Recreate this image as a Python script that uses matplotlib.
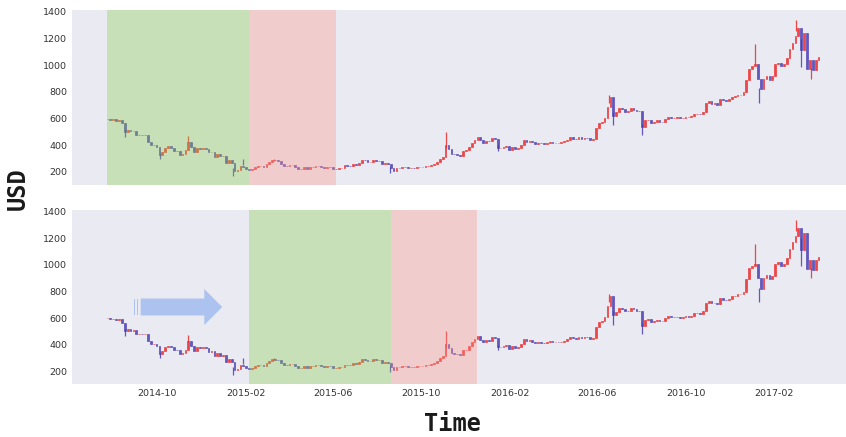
import matplotlib
matplotlib.use('Agg')
import matplotlib.pyplot as plt
import matplotlib.dates as mdates
import numpy as np
import pandas as pd
import seaborn as sns

sns.set_style('dark')

# BTC/USD close, one candle every 4 days from 2014-07-24
start = '2014-07-24'
close = [
    600, 590,
    595, 585, 590, 565, 500, 515, 505, 510,
    478, 480, 478, 478, 425, 402, 405, 387,
    330, 352, 378, 392, 383, 358, 355,
    325, 338, 362, 425, 385, 351, 378, 375,
    378, 375, 347, 348, 315, 334, 316, 318,
    265, 290, 268, 205, 212, 248, 235,
    225, 217, 220, 237, 243, 245, 237,
    260, 273, 290, 286, 285, 260, 246, 242,
    253, 255, 236, 219, 223, 235, 220, 236,
    239, 243, 242, 236, 233, 240, 237,
    223, 225, 229, 232, 249, 245, 242, 257,
    255, 269, 292, 286, 275, 277, 293, 284,
    284, 260, 267, 258, 233, 210, 230,
    228, 235, 238, 230, 233, 230, 235, 237,
    238, 246, 247, 255, 262, 277, 295, 315,
    403, 372, 337, 332, 326, 322, 357,
    361, 389, 416, 443, 462, 436, 417, 432,
    430, 456, 448, 380, 380, 387, 394, 368,
    389, 375, 382, 403, 438, 424, 433,
    421, 412, 420, 415, 408, 418, 424, 416,
    420, 419, 422, 430, 441, 459, 449,
    444, 459, 450, 455, 454, 440, 449, 530,
    569, 576, 606, 690, 763, 623, 647, 676,
    670, 650, 654, 678, 665, 654, 655,
    540, 587, 592, 570, 574, 587, 578, 577,
    599, 614, 607, 607, 610, 603, 606, 613,
    611, 617, 636, 638, 632, 653, 714,
    732, 711, 715, 704, 748, 739, 733, 745,
    765, 768, 778, 780, 799, 891, 975,
    995, 1010, 900, 820, 900, 921, 893, 917,
    1007, 1021, 995, 1009, 1054, 1124, 1171,
    1222, 1277, 1116, 1245, 970, 1040, 965, 1040, 1060,
]

# intraday extremes that stick out of the bodies
wick_dates = ['2014-08-18', '2014-10-05', '2014-11-12', '2015-01-14', '2015-01-27',
              '2015-03-11', '2015-08-19', '2015-11-04', '2016-01-15', '2016-06-17',
              '2016-06-22', '2016-08-02', '2017-01-05', '2017-01-11', '2017-03-03',
              '2017-03-10', '2017-03-24']
wick_lo = [465, 300, 420, 170, 250, 280, 195, 380, 355, 720, 550, 480, 1000, 720, 1260, 990, 900]
wick_hi = [520, 340, 470, 230, 300, 300, 235, 500, 400, 780, 650, 560, 1160, 830, 1340, 1200, 980]

# training (green) / test (red) windows for the two panels
train_windows = [('2014-07-24', '2015-02-05'), ('2015-02-05', '2015-08-20')]
test_windows = [('2015-02-05', '2015-06-05'), ('2015-08-20', '2015-12-18')]

yticks = [200, 400, 600, 800, 1000, 1200, 1400]
xticks = ['2014-10-01', '2015-02-01', '2015-06-01', '2015-10-01',
          '2016-02-01', '2016-06-01', '2016-10-01', '2017-02-01']

dates = pd.date_range(start, periods=len(close), freq='4D')
x = mdates.date2num(dates)
c = np.array(close, dtype=float)
o = np.r_[c[0], c[:-1]]
up = c >= o

RED = '#ec2a2a'
BLUE = '#4a3db2'
GREEN_SPAN = '#8ace4a'
RED_SPAN = '#ff9586'


def candles(ax):
    cols = np.where(up, RED, BLUE)
    ax.bar(x, c - o, bottom=o, width=2.4, color=cols, edgecolor=cols,
           linewidth=0.5, alpha=0.85, zorder=2)
    wx = mdates.date2num(pd.to_datetime(wick_dates))
    for xi, lo, hi in zip(wx, wick_lo, wick_hi):
        k = np.argmin(np.abs(x - xi))
        ax.vlines(xi, lo, hi, color=RED if up[k] else BLUE, lw=0.9, alpha=0.85, zorder=2)


fig = plt.figure(figsize=(8.46, 4.37), dpi=100)
W, H = 846, 437
ax1 = fig.add_axes([72 / W, 1 - 185 / H, 774 / W, 175 / H])
ax2 = fig.add_axes([72 / W, 1 - 384 / H, 774 / W, 174 / H], sharex=ax1)

xmin = mdates.date2num(pd.Timestamp('2014-06-05'))
xmax = mdates.date2num(pd.Timestamp('2017-05-11'))

for ax, (g0, g1), (r0, r1) in zip([ax1, ax2], train_windows, test_windows):
    candles(ax)
    ax.axvspan(pd.Timestamp(g0), pd.Timestamp(g1), color=GREEN_SPAN, alpha=0.35, lw=0, zorder=3)
    ax.axvspan(pd.Timestamp(r0), pd.Timestamp(r1), color=RED_SPAN, alpha=0.35, lw=0, zorder=3)
    ax.set_ylim(102, 1415)
    ax.set_yticks(yticks)
    ax.set_xlim(xmin, xmax)
    ax.tick_params(labelsize=6.8, colors='#333333', length=0)
    for s in ax.spines.values():
        s.set_visible(False)

ax1.set_xticks(mdates.date2num(pd.to_datetime(xticks)))
ax2.xaxis.set_major_formatter(mdates.DateFormatter('%Y-%m'))
plt.setp(ax1.get_xticklabels(), visible=False)

# the "window slides forward" arrow
a0 = mdates.date2num(pd.Timestamp('2014-09-08'))
a1 = mdates.date2num(pd.Timestamp('2014-12-30'))
ax2.arrow(a0, 683, a1 - a0, 0, width=128, head_width=272, head_length=25,
          length_includes_head=True, color='cornflowerblue', alpha=0.45, lw=0, zorder=4)
for s in ['2014-08-31', '2014-09-04']:
    ax2.bar(mdates.date2num(pd.Timestamp(s)), 128, bottom=683 - 64, width=1.6,
            color='cornflowerblue', alpha=0.45, lw=0, zorder=4)

fig.text(18 / W, 1 - 189 / H, 'USD', rotation=90, ha='center', va='center',
         family='DejaVu Sans Mono', weight='bold', size=17, color='#1a1a1a')
fig.text(452 / W, 1 - 424 / H, 'Time', ha='center', va='center',
         family='DejaVu Sans Mono', weight='bold', size=17, color='#1a1a1a')

fig.savefig('out.png', dpi=100)
